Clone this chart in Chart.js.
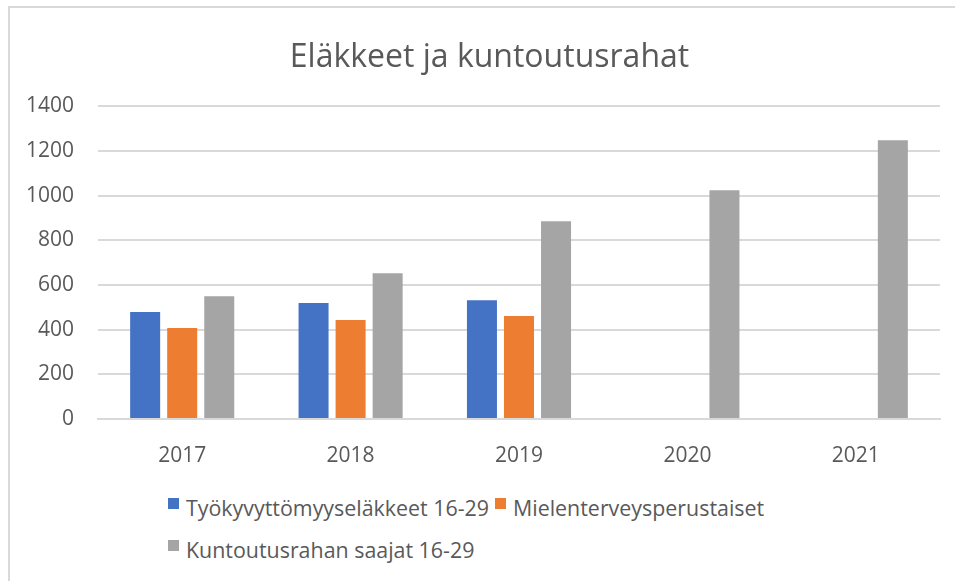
<!DOCTYPE html>
<html>
<head>
<meta charset="utf-8">
<script src="https://cdn.jsdelivr.net/npm/chart.js@4/dist/chart.umd.min.js"></script>
<style>
  html, body { margin: 0; padding: 0; background: #fff; overflow: hidden; }
  body { width: 955px; height: 581px; position: relative; }
  #frame {
    position: absolute; left: 8px; top: 6px; width: 970px; height: 600px;
    border-left: 2px solid #d9d9d9; border-top: 2px solid #d9d9d9;
  }
  #wrap { position: absolute; left: 0; top: 0; width: 962px; height: 470px; }
  #legend {
    position: absolute; left: 158px; top: 479px; width: 720px;
    font-family: "Open Sans", sans-serif; font-size: 21.4px; color: #595959;
  }
  #legend span.item { display: inline-block; margin-right: 6px; height: 42px; line-height: 42px; white-space: nowrap; }
  #legend span.box { display: inline-block; width: 11px; height: 11px; margin-right: 7px; vertical-align: 7px; }
</style>
</head>
<body>
<div id="frame">
  <div id="wrap"><canvas id="myChart"></canvas></div>
  <div id="legend"></div>
</div>
<script>
const years = ['2017', '2018', '2019', '2020', '2021']
const tyokyvyttomyys = [479, 519, 532, null, null]
const mielenterveys = [407, 443, 461, null, null]
const kuntoutusraha = [550, 653, 886, 1025, 1248]
const seriesNames = ['Työkyvyttömyyseläkkeet 16-29', 'Mielenterveysperustaiset', 'Kuntoutusrahan saajat 16-29']
const colorHex = ['#4472C4', '#ED7D31', '#A5A5A5']

const textColor = '#595959'
const gridColor = '#d9d9d9'

// title sits a bit right of the plot centre in the original
const shiftTitle = {
    id: 'shiftTitle',
    afterLayout(chart) {
        chart.titleBlock.left += 6
        chart.titleBlock.right += 6
    }
}

let ctx = document.getElementById('myChart').getContext('2d')

let myChart = new Chart(ctx, {
    type: 'bar',
    data: {
        labels: years,
        datasets: [
            { label: seriesNames[0], data: tyokyvyttomyys, backgroundColor: colorHex[0] },
            { label: seriesNames[1], data: mielenterveys, backgroundColor: colorHex[1] },
            { label: seriesNames[2], data: kuntoutusraha, backgroundColor: colorHex[2] }
        ]
    },
    options: {
        responsive: true,
        maintainAspectRatio: false,
        animation: false,
        categoryPercentage: 0.66,
        barPercentage: 0.81,
        layout: { padding: { left: 17, right: 32, top: 0, bottom: 10 } },
        plugins: {
            legend: { display: false },
            tooltip: { enabled: false },
            title: {
                display: true,
                text: 'Eläkkeet ja kuntoutusrahat',
                color: textColor,
                font: { family: 'Open Sans', size: 32, weight: 'normal' },
                padding: { top: 31, bottom: 29 }
            }
        },
        scales: {
            x: {
                grid: { display: false },
                border: { color: gridColor, width: 2 },
                ticks: { color: textColor, font: { family: 'Open Sans', size: 21 }, padding: 16 },
                // chart.js counts tick padding twice, so fix the height by hand
                afterFit: scale => { scale.height = 49 }
            },
            y: {
                min: 0,
                max: 1400,
                ticks: {
                    stepSize: 200,
                    color: textColor,
                    font: { family: 'Open Sans', size: 21 },
                    padding: 24,
                    callback: v => String(v)
                },
                grid: { color: gridColor, lineWidth: 2, drawTicks: false },
                border: { display: false },
                afterFit: scale => { scale.width = 71 }
            }
        }
    },
    plugins: [shiftTitle]
})

// legend in html so the second row starts at the left like the original
const legendEl = document.querySelector('#legend')
seriesNames.forEach((name, i) => {
    legendEl.innerHTML += `<span class="item"><span class="box" style="background:${colorHex[i]}"></span>${name}</span>`
    if (i == 1) legendEl.innerHTML += '<br>'
})
</script>
</body>
</html>
